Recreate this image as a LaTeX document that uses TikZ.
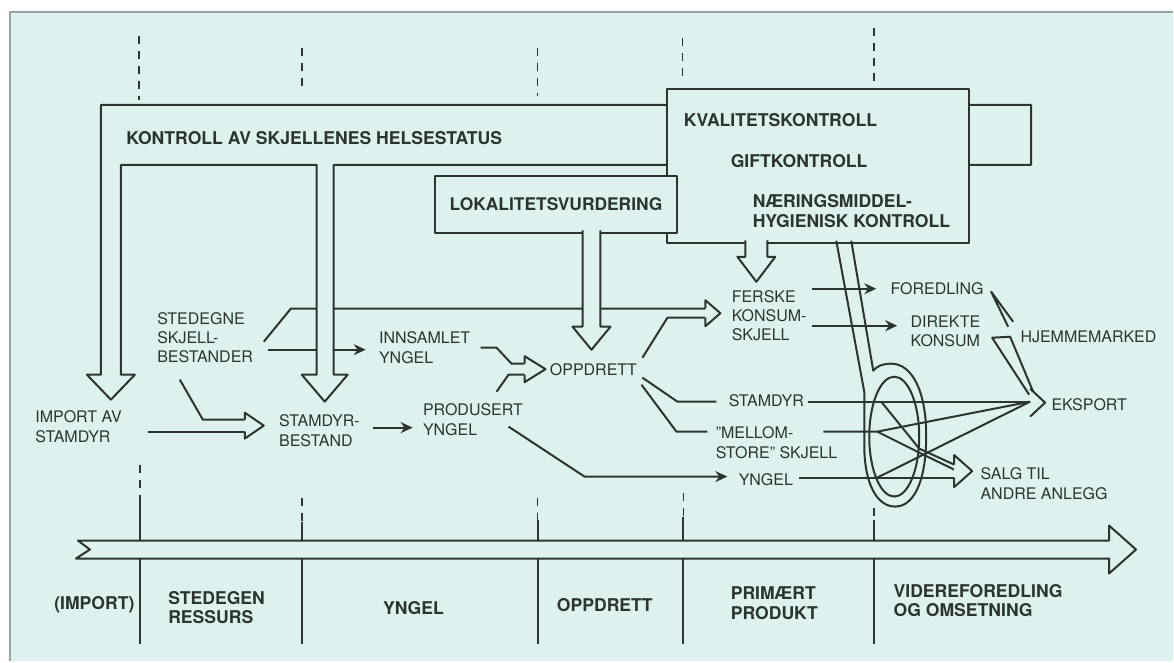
\documentclass[tikz,border=0pt]{standalone}
\usepackage{fontspec}
\setmainfont{TeX Gyre Heros}
\usetikzlibrary{arrows.meta,calc}
\definecolor{cPanel}{HTML}{DDF2EE}
\definecolor{cEdge}{HTML}{9AA5A3}
\definecolor{cInk}{HTML}{2B3433}
\tikzset{
  ln/.style={line width=1pt, draw=cInk, line join=round},
  flow/.style={ln, -{Stealth[length=6pt,width=5.5pt]}},
  bigarr/.style={ln, fill=cPanel},
  cbox/.style={ln, fill=cPanel, inner sep=0pt},
  tick/.style={line width=0.8pt, draw=cInk, dash pattern=on 4pt off 3.5pt},
  lbl/.style={anchor=west, inner sep=0pt, align=left, text=cInk,
              font=\fontsize{8}{9.6}\selectfont},
  hd/.style={lbl, font=\fontsize{8.8}{9.8}\selectfont\bfseries},
  pics/hhead/.style n args={3}{code={
    \filldraw[ln, fill=cPanel] (0,-#1) -- (0,-#2) -- (#3,0) -- (0,#2) -- (0,#1);}},
}

\begin{document}
\begin{tikzpicture}[x=0.5pt, y=-0.5pt]
% ---- sheet
\fill[white] (0,0) rectangle (1174,662);
\fill[cPanel] (10,12) rectangle (1174,662);
\draw[cEdge, line width=1pt] (10,662) -- (10,12) -- (1174,12);
\useasboundingbox (0,0) rectangle (1174,662);
% ---- phase dividers
\foreach \x/\a/\b in {139/36/100, 302/48/92, 538/48/96, 683/38/82, 875/28/88}
  \draw[tick] (\x,\a) -- (\x,\b);
\foreach \x/\a/\b in {140/465/497, 302/498/522, 538/498/520, 684/493/517, 875/508/520} {
  \draw[tick] (\x,\a) -- (\x,\b);
  \draw[ln] (\x,\b) -- (\x,541);
  \draw[ln] (\x,559) -- (\x,645);
}
% ---- junctions of the flow lines
\foreach \n/\x/\y in {impo/148/432, hAb/245/432, stdo/180/380, stdk1/203/420, hAt/245/420,
    stdu/264/342, stdk2/291/309, hCt/706/309, stdi/268/350, innsi/366/350,
    stbo/373/428, prodi/413/428, inno/481/348, innk1/497/348, innk2/512/364, hBt/525/364,
    prodo/497/392, prodk1/509/375, hBb/525/375, prody/509/427, prodk2/585/477, yngi/728/477,
    oppf/643/358, oppk1/668/318, hCb/706/318, opps/643/378, oppk2/678/402, stami/717/402,
    oppm/642/385, oppk3/677/432, melli/708/432, ferso1/813/289, foredi/877/289,
    ferso2/813/326, direki/898/326, stamo/809/402, eksi/1031/402, mello/824/432,
    mellk/878/432, yngo/800/478, yngk/878/478, hDb/955/478, stamk/882/402,
    salgj1/920/449, hDt/955/465, salgj2/922/454, hDm/955/470,
    foro/992/292, fw1/1009/327, fw2/1014/322, diro1/993/338, diro2/1011/337,
    eksw1/1030/395, eksw2/1034/392, kvrl/837/241, kvrr/852/241}
  \coordinate (\n) at (\x,\y);
% ---- flow lines
\draw[ln] (impo) -- (hAb);
\draw[ln] (stdo) -- (stdk1) -- (hAt);
\draw[ln] (stdu) -- (stdk2) -- (hCt);
\draw[flow] (stdi) -- (innsi);
\draw[flow] (stbo) -- (prodi);
\draw[ln] (inno) -- (innk1) -- (innk2) -- (hBt);
\draw[ln] (prodo) -- (prodk1) -- (hBb);
\draw[flow] (prody) -- (prodk2) -- (yngi);
\draw[ln] (oppf) -- (oppk1) -- (hCb);
\draw[ln] (opps) -- (oppk2) -- (stami);
\draw[ln] (oppm) -- (oppk3) -- (melli);
\draw[flow] (ferso1) -- (foredi);
\draw[flow] (ferso2) -- (direki);
\draw[ln] (stamo) -- (eksi);
\draw[ln] (mello) -- (mellk) -- (eksi);
\draw[ln] (yngo) -- (hDb);
\draw[ln] (yngk) -- (eksi);
\draw[ln] (stamk) -- (salgj1) -- (hDt);
\draw[ln] (mellk) -- (salgj2) -- (hDm);
\draw[ln] (fw1) -- (foro) -- (fw2);
\draw[ln] (eksw1) -- (diro1) -- (diro2) -- (eksw2);
\draw[ln] (1031,389) -- (1046,403) -- (1031,417);
% ---- control frames
\filldraw[bigarr] (101,375) -- (101,105) -- (1032,105) -- (1032,165) -- (334,165)
  -- (334,375) -- (348,375) -- (325,402) -- (302,375) -- (317,375) -- (317,165)
  -- (121,165) -- (121,375) -- (135,375) -- (111,400) -- (87,375) -- cycle;
\node[cbox, anchor=north west, minimum width=151pt, minimum height=77pt] (kvalbox) at (667,88) {};
\filldraw[bigarr] (746,240.5) -- (746,257) -- (738,257) -- (757,282) -- (776,257) -- (768,257) -- (768,240.5);
\node[cbox, anchor=north west, minimum width=121.5pt, minimum height=28.5pt,
      font=\fontsize{8.7}{9.8}\selectfont\bfseries, text=cInk] (lok) at (434,175) {LOKALITETSVURDERING};
\filldraw[bigarr] (583,230.5) -- (583,327) -- (573,327) -- (592,350) -- (611,327) -- (601,327) -- (601,230.5);
% ---- hollow heads where two flows meet
\pic at (245,426) {hhead={6}{13}{19}};
\pic at (525,369.5) {hhead={5.5}{13}{21}};
\pic at (706,313.5) {hhead={4.5}{13}{15}};
\pic at (955,471.5) {hhead={6.5}{16}{18}};
% ---- control loop round the products
\draw[ln] (kvrl) -- (865,392) -- (865,445) .. controls (865,485) and (878,507) .. (896,507)
  .. controls (914,507) and (927,483) .. (927,436) .. controls (927,392) and (913,364) .. (892,364)
  .. controls (884,364) and (878,366) .. (874,371) -- (kvrr);
\draw[ln] (895,437) ellipse [x radius=12.5pt, y radius=30pt];
% ---- labels
\node[hd] (kontr) at (126,138) {KONTROLL AV SKJELLENES HELSESTATUS};
\node[hd] (kval) at (684,120) {KVALITETSKONTROLL};
\node[hd] (gift) at (731,161) {GIFTKONTROLL};
\node[hd] (naer) at (753,211) {NÆRINGSMIDDEL-\\HYGIENISK KONTROLL};
\node[lbl] (imp) at (35,427) {IMPORT AV\\STAMDYR};
\node[lbl] (sted) at (157,338) {STEDEGNE\\SKJELL-\\BESTANDER};
\node[lbl] (innsam) at (379,348) {INNSAMLET\\YNGEL};
\node[lbl] (stamb) at (279,431) {STAMDYR-\\BESTAND};
\node[lbl] (prod) at (423,420) {PRODUSERT\\YNGEL};
\node[lbl] (opp) at (550,370) {OPPDRETT};
\node[lbl] (fersk) at (732,316) {FERSKE\\KONSUM-\\SKJELL};
\node[lbl] (stam) at (729,401) {STAMDYR};
\node[lbl] (mell) at (716,443) {"MELLOM-\\STORE" SKJELL};
\node[lbl] (yng) at (739,480) {YNGEL};
\node[lbl] (fored) at (891,289) {FOREDLING};
\node[lbl] (direk) at (911,332) {DIREKTE\\KONSUM};
\node[lbl] (hjem) at (1021,337) {HJEMMEMARKED};
\node[lbl] (eksp) at (1052,405) {EKSPORT};
\node[lbl] (salg) at (981,484) {SALG TIL\\ANDRE ANLEGG};
% ---- time axis
\filldraw[bigarr] (78,541) -- (1110,541) -- (1110,526) -- (1137,550) -- (1110,574)
  -- (1110,559) -- (76,559) -- (90,550) -- cycle;
\node[hd] (pImp) at (54,605) {(IMPORT)};
\node[hd] (pSted) at (168,608) {STEDEGEN\\RESSURS};
\node[hd] (pYng) at (383,609) {YNGEL};
\node[hd] (pOpp) at (557,606) {OPPDRETT};
\node[hd] (pPrim) at (731,604) {PRIMÆRT\\PRODUKT};
\node[hd] (pVid) at (894,601) {VIDEREFOREDLING\\OG OMSETNING};
\end{tikzpicture}
\end{document}
